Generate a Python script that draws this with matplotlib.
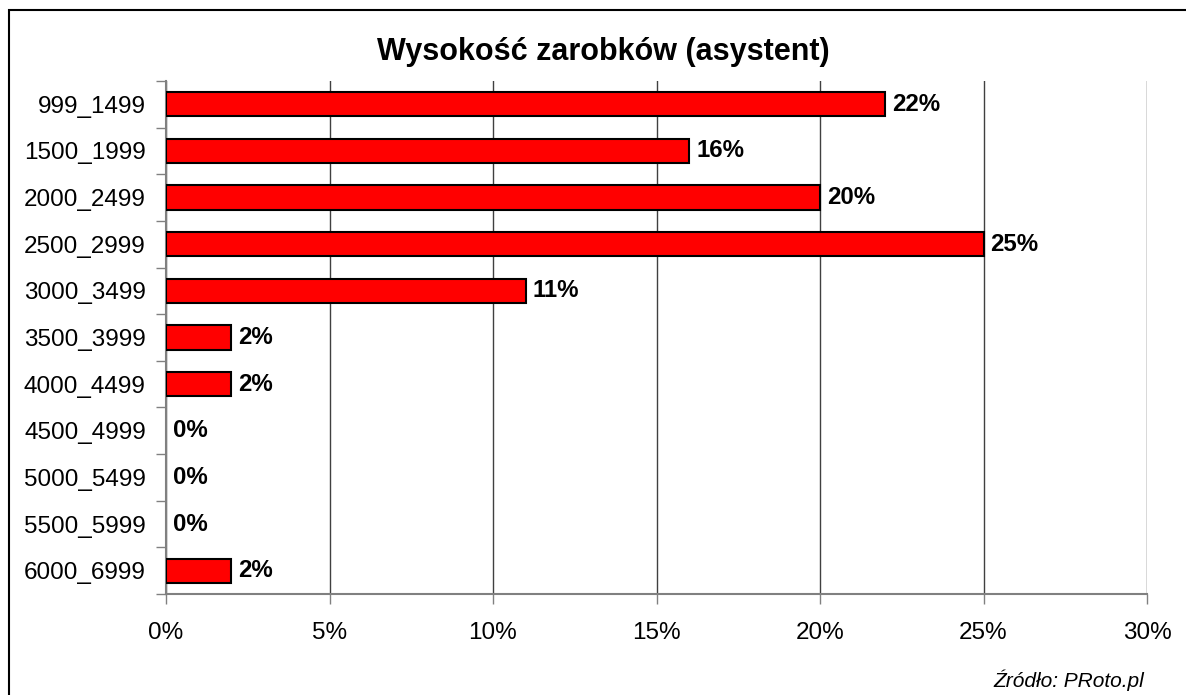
import matplotlib
matplotlib.use("Agg")
import matplotlib.pyplot as plt
from matplotlib.patches import Rectangle
import numpy as np

categories = ["999_1499", "1500_1999", "2000_2499", "2500_2999", "3000_3499",
              "3500_3999", "4000_4499", "4500_4999", "5000_5499", "5500_5999",
              "6000_6999"]
values = [22, 16, 20, 25, 11, 2, 2, 0, 0, 0, 2]
x_ticks = [0, 5, 10, 15, 20, 25, 30]
title = "Wysokość zarobków (asystent)"
source = "Źródło: PRoto.pl"

plt.rcParams['font.family'] = ['Liberation Sans', 'DejaVu Sans']

W, H = 1186, 695
fig = plt.figure(figsize=(W / 100, H / 100), dpi=100)
fig.patch.set_facecolor("white")

# outer frame
fig.patches.append(Rectangle((9 / W, -0.05), 1.2, 1 - 10 / H + 0.05,
                             transform=fig.transFigure, fill=False,
                             edgecolor="black", linewidth=1.5))

ax_l, ax_r, ax_t, ax_b = 166, 1147, 81, 594
ax = fig.add_axes([ax_l / W, 1 - ax_b / H, (ax_r - ax_l) / W, (ax_b - ax_t) / H])

n = len(categories)
y = np.arange(n)
lws = [1.5 if v > 0 else 0 for v in values]
ax.barh(y, values, height=0.52, color="#FF0000", edgecolor="black",
        linewidth=lws, zorder=3)

for yi, v in zip(y, values):
    ax.annotate(f"{v}%", xy=(v, yi), xytext=(5, 0), textcoords="offset points",
                ha="left", va="center", fontsize=17.3, fontweight="bold", zorder=4)

ax.set_xlim(0, 30)
ax.set_ylim(n - 0.5, -0.5)

ax.set_xticks(x_ticks)
ax.set_xticklabels([f"{t}%" for t in x_ticks])
ax.xaxis.grid(True, color="#404040", linewidth=1)
ax.set_axisbelow(True)

ax.set_yticks(y)
ax.set_yticklabels(categories)
ax.set_yticks(np.arange(-0.5, n, 1.0), minor=True)
ax.tick_params(axis="y", which="major", length=0, pad=14.5, labelsize=17.5)
ax.tick_params(axis="y", which="minor", length=7, width=1, color="#808080",
               direction="out")
ax.tick_params(axis="x", which="major", length=7, width=1, color="#808080",
               direction="out", pad=13, labelsize=17.5)

for s in ["top", "right"]:
    ax.spines[s].set_visible(False)
for s in ["left", "bottom"]:
    ax.spines[s].set_color("#808080")
    ax.spines[s].set_linewidth(1.5)

fig.text(603 / W, 1 - 52 / H, title, ha="center", va="center",
         fontsize=22, fontweight="bold")
fig.text(1144 / W, 1 - 680 / H, source, ha="right", va="center",
         fontsize=15, fontstyle="italic")

fig.savefig("out.png", dpi=100)
